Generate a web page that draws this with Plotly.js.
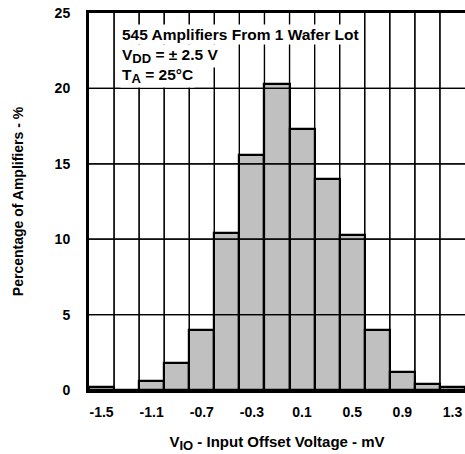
<!DOCTYPE html>
<html>
<head>
<meta charset="utf-8">
<script src="https://cdn.plot.ly/plotly-3.0.1.min.js"></script>
<style>html,body{margin:0;padding:0;background:#fff;}#chart{width:465px;height:454px;}#dbg{position:absolute;left:95px;top:120px;width:365px;font:9px monospace;white-space:pre-wrap;color:#fff;}</style>
</head>
<body>
<div id="chart"></div>
<div id="dbg"></div>
<script>
var dbg = document.getElementById('dbg');
window.onerror = function () { dbg.textContent += '\u00a0'; };
window.addEventListener('unhandledrejection', function () { dbg.textContent += '\u00a0'; });
// Bin centers (mV), bin width 0.2 mV
var binCenters = [-1.5, -1.3, -1.1, -0.9, -0.7, -0.5, -0.3, -0.1, 0.1, 0.3, 0.5, 0.7, 0.9, 1.1, 1.3];
var percentages = [0.2, 0, 0.6, 1.8, 4.0, 10.4, 15.6, 20.3, 17.3, 14.0, 10.3, 4.0, 1.2, 0.4, 0.2];
var binWidth = 0.2;
var xTickVals = [-1.5, -1.1, -0.7, -0.3, 0.1, 0.5, 0.9, 1.3];
var xTickText = ['-1.5', '-1.1', '-0.7', '-0.3', '0.1', '0.5', '0.9', '1.3'];
var yTickVals = [0, 5, 10, 15, 20, 25];
var noteLines = ['545 Amplifiers From 1 Wafer Lot',
  'V<sub><span style="font-size:13px">DD</span></sub> = ± 2.5 V',
  'T<sub><span style="font-size:13px">A</span></sub> = 25°C'];

var xMin = binCenters[0] - binWidth / 2;
var xMax = binCenters[binCenters.length - 1] + binWidth / 2;
var yMin = yTickVals[0], yMax = yTickVals[yTickVals.length - 1];

var fam = 'Liberation Sans, Arial, sans-serif';

var bars = {
  type: 'bar', x: binCenters, y: percentages, width: binWidth,
  marker: {color: '#c0c0c0', line: {color: '#000', width: 2.2}}, hoverinfo: 'skip'
};

// grid lines drawn above the bars (as in the reference): bin edges and y ticks
var gx = [], gy = [], shapes = [];
for (var i = 1; i < binCenters.length; i++) {
  var e = binCenters[i] - binWidth / 2;
  gx.push(e, e, null); gy.push(yMin, yMax, null);
  shapes.push({type: 'line', layer: 'above', xref: 'x', yref: 'y', x0: e, x1: e, y0: yMin, y1: yMax, line: {color: '#000', width: 1.2}});
}
for (var j = 1; j < yTickVals.length - 1; j++) {
  gx.push(xMin, xMax, null); gy.push(yTickVals[j], yTickVals[j], null);
  shapes.push({type: 'line', layer: 'above', xref: 'x', yref: 'y', x0: xMin, x1: xMax, y0: yTickVals[j], y1: yTickVals[j], line: {color: '#000', width: 1.2}});
}
var grid = {type: 'scatter', mode: 'lines', x: gx, y: gy, line: {color: '#000', width: 1.2}, hoverinfo: 'skip'};

var annotations = noteLines.map(function (t, k) {
  return {
    text: '<b>' + t + '</b>', xref: 'paper', yref: 'paper', x: 0.083, y: 0.972 - k * 0.054,
    xanchor: 'left', yanchor: 'top', showarrow: false, align: 'left',
    bgcolor: '#fff', borderpad: 1, font: {family: fam, size: 15.5, color: '#000'}
  };
});

var layout = {
  width: 465, height: 454,
  margin: {l: 89, r: 0, t: 13, b: 64},
  paper_bgcolor: '#fff', plot_bgcolor: '#fff',
  showlegend: false, bargap: 0,
  font: {family: fam, size: 14, color: '#000'},
  xaxis: {
    range: [xMin, xMax], tickmode: 'array', tickvals: xTickVals, ticktext: xTickText,
    showgrid: false, zeroline: false, ticks: '', ticklabelstandoff: 7,
    showline: true, linecolor: '#000', linewidth: 3, mirror: true,
    tickfont: {family: fam, size: 14, color: '#000', weight: 'bold'},
    title: {text: '<b>V<sub><span style="font-size:13px">IO</span></sub> - Input Offset Voltage - mV</b>', font: {family: fam, size: 15, color: '#000'}, standoff: 18}
  },
  yaxis: {
    range: [yMin, yMax], tickmode: 'array', tickvals: yTickVals,
    showgrid: false, zeroline: false, ticks: '', ticklabelstandoff: 13,
    showline: true, linecolor: '#000', linewidth: 3, mirror: true,
    tickfont: {family: fam, size: 14, color: '#000', weight: 'bold'},
    title: {text: '<b>Percentage of Amplifiers - %</b>', font: {family: fam, size: 14, color: '#000'}, standoff: 28}
  },
  shapes: shapes,
  annotations: annotations
};

function nudge() {
  var c = document.getElementById('chart');
  c.style.opacity = (c.style.opacity === '0.999') ? '1' : '0.999';
  dbg.textContent += '\u00a0';
}
Plotly.newPlot('chart', [bars, grid], layout, {displayModeBar: false}).then(nudge).catch(nudge);
setTimeout(nudge, 300);
setTimeout(nudge, 600);
</script>
</body>
</html>
